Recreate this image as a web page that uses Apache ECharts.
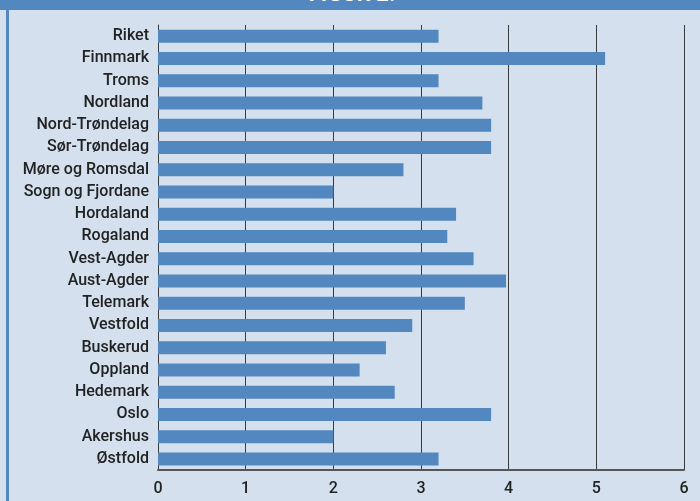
<!DOCTYPE html>
<html>
<head>
<meta charset="utf-8">
<script src="https://cdn.jsdelivr.net/npm/echarts@6/dist/echarts.min.js"></script>
<style>
html,body{margin:0;padding:0;background:#d4e0ee;}
#c{width:700px;height:501px;}
</style>
</head>
<body>
<div id="c"></div>
<script>
const categories = ["Riket","Finnmark","Troms","Nordland","Nord-Trøndelag","Sør-Trøndelag","Møre og Romsdal","Sogn og Fjordane","Hordaland","Rogaland","Vest-Agder","Aust-Agder","Telemark","Vestfold","Buskerud","Oppland","Hedemark","Oslo","Akershus","Østfold"];
const values = [3.2,5.1,3.2,3.7,3.8,3.8,2.8,2.0,3.4,3.3,3.6,3.97,3.5,2.9,2.6,2.3,2.7,3.8,2.0,3.2];
const xTicks = [0,1,2,3,4,5,6];
const titleText = "FIGUR 2.";

const chart = echarts.init(document.getElementById('c'), null, {renderer:'canvas'});
const font = 'Roboto';
chart.setOption({
  backgroundColor: '#d4e0ee',
  animation: false,
  grid: {left: 158, right: 16, top: 25, bottom: 31, containLabel: false},
  graphic: [
    {type:'rect', shape:{x:0,y:0,width:700,height:10}, style:{fill:'#5287bf'}, z:10},
    {type:'rect', shape:{x:6,y:0,width:3,height:501}, style:{fill:'#5287bf'}, z:10},
    {type:'text', x:352, y:-16, style:{text:titleText, fill:'#ffffff', font:'bold 22px Roboto', textAlign:'center', textVerticalAlign:'top'}, z:11}
  ],
  xAxis: {
    type: 'value', min: xTicks[0], max: xTicks[xTicks.length-1], interval: 1,
    axisLine: {show: true, lineStyle: {color: '#555', width: 2}},
    axisTick: {show: false},
    axisLabel: {color: '#222', fontFamily: font, fontSize: 16, fontWeight: 500, margin: 11},
    splitLine: {show: true, lineStyle: {color: '#3a3a3a', width: 1}}
  },
  yAxis: {
    type: 'category', data: categories, inverse: true,
    axisLine: {show: true, lineStyle: {color: '#3a3a3a', width: 1}},
    axisTick: {show: false},
    axisLabel: {color: '#222', fontFamily: font, fontSize: 16, fontWeight: 500, margin: 9}
  },
  series: [{
    type: 'bar', data: values, barWidth: 13,
    itemStyle: {color: '#5287bf'}
  }]
});
</script>
</body>
</html>
